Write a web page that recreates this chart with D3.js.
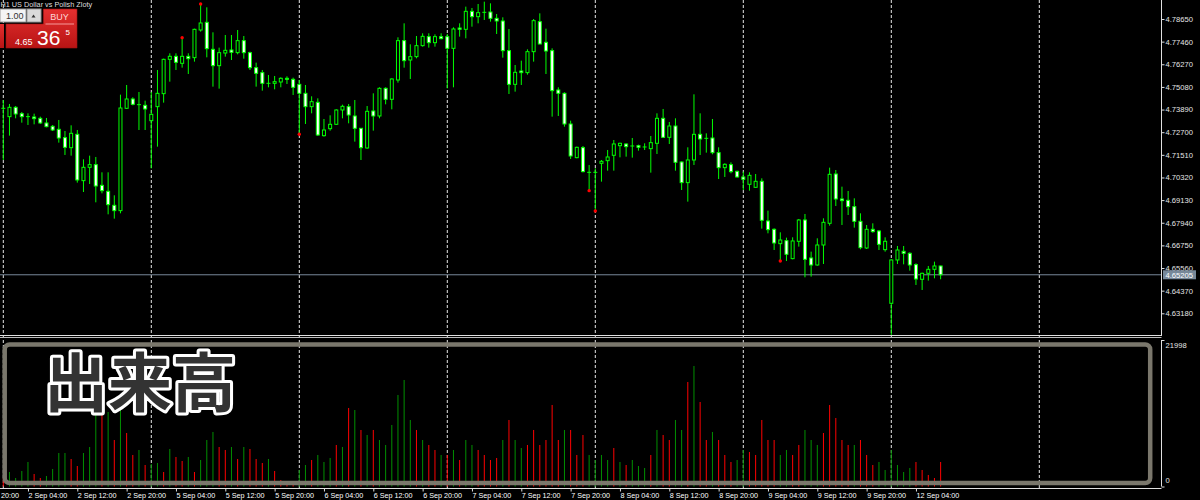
<!DOCTYPE html>
<html><head><meta charset="utf-8">
<script src="https://cdn.jsdelivr.net/npm/d3@7"></script>
<style>html,body{margin:0;padding:0;background:#000;overflow:hidden} svg{display:block}</style>
</head><body>
<svg id="c" width="1200" height="500"></svg>
<script>
// ---- data (USDPLN H1) ----
const opens=[4.73955,4.73517,4.74007,4.73674,4.73517,4.73499,4.73429,4.73184,4.73009,4.72851,4.72413,4.71887,4.72588,4.70153,4.70854,4.70994,4.69907,4.69592,4.68856,4.68576,4.73955,4.74445,4.74147,4.74112,4.73306,4.74042,4.74726,4.76530,4.76688,4.76320,4.76688,4.76618,4.78072,4.78475,4.77056,4.76197,4.76863,4.77021,4.76881,4.77512,4.76881,4.76092,4.75830,4.75269,4.75269,4.75339,4.75532,4.75479,4.75216,4.74743,4.74042,4.74270,4.72518,4.72886,4.73114,4.73867,4.74042,4.73552,4.72904,4.71870,4.73815,4.73552,4.75006,4.74428,4.75444,4.77512,4.76495,4.76671,4.77249,4.77722,4.77406,4.77722,4.77722,4.77108,4.78177,4.78107,4.79053,4.78773,4.79001,4.79018,4.78685,4.78545,4.76986,4.75216,4.75917,4.75830,4.76933,4.78510,4.77424,4.76986,4.74918,4.74743,4.73131,4.71362,4.71887,4.70591,4.70591,4.71064,4.71204,4.71485,4.71992,4.72080,4.71975,4.71992,4.71922,4.71835,4.72115,4.73429,4.72430,4.73026,4.71134,4.70048,4.71239,4.72588,4.72378,4.72395,4.71625,4.70836,4.70994,4.70643,4.70346,4.69960,4.69802,4.70118,4.68033,4.67595,4.66841,4.66999,4.66053,4.66964,4.68085,4.66088,4.65720,4.66771,4.67910,4.70503,4.69189,4.69119,4.68786,4.68015,4.66613,4.67595,4.67507,4.66526,4.63705,4.65983,4.66438,4.66333,4.65738,4.64967,4.65282,4.65492,4.65667];
const highs=[4.74393,4.74183,4.74077,4.73762,4.73692,4.73674,4.73517,4.73447,4.73079,4.73342,4.72763,4.73061,4.72816,4.71274,4.71467,4.71397,4.70591,4.70591,4.69382,4.74673,4.75181,4.74533,4.74813,4.74358,4.74813,4.75970,4.76565,4.76846,4.76846,4.77669,4.76846,4.78142,4.79439,4.79264,4.77950,4.77144,4.77809,4.77809,4.78072,4.77757,4.76933,4.76355,4.75970,4.75707,4.75654,4.75584,4.75637,4.75567,4.75444,4.75181,4.74586,4.74480,4.73394,4.73587,4.73902,4.74147,4.74183,4.74393,4.72921,4.74077,4.74743,4.75059,4.75059,4.75532,4.77687,4.78423,4.77319,4.77757,4.77897,4.77897,4.77844,4.77897,4.77862,4.78212,4.78423,4.79299,4.79229,4.79439,4.79561,4.79474,4.78913,4.78738,4.78125,4.76232,4.76460,4.77056,4.78650,4.78948,4.78142,4.77108,4.75059,4.74796,4.73306,4.71940,4.71975,4.70976,4.70801,4.71239,4.71765,4.72290,4.72150,4.72115,4.72395,4.72045,4.72115,4.72501,4.73692,4.73920,4.73236,4.73429,4.71169,4.71905,4.74691,4.73692,4.72641,4.73394,4.71905,4.71064,4.71116,4.70678,4.70626,4.70591,4.70503,4.70275,4.68576,4.67647,4.67437,4.67157,4.67174,4.68138,4.68401,4.66421,4.67122,4.68173,4.70836,4.70713,4.69837,4.69610,4.69224,4.68436,4.67822,4.67910,4.67560,4.67174,4.66018,4.66719,4.66719,4.66386,4.65808,4.65317,4.65667,4.65895,4.65685];
const lows=[4.71239,4.72518,4.73429,4.73201,4.73079,4.73114,4.73131,4.72956,4.72763,4.72150,4.71502,4.71467,4.70048,4.69557,4.69978,4.69014,4.69487,4.68383,4.68155,4.68436,4.73920,4.74112,4.72816,4.72816,4.70801,4.71940,4.74253,4.75356,4.75970,4.76092,4.75759,4.76408,4.77985,4.76635,4.75094,4.74989,4.76671,4.76495,4.76793,4.76565,4.75970,4.75094,4.74883,4.75059,4.74953,4.75059,4.75234,4.74656,4.72588,4.73131,4.73692,4.72501,4.72466,4.72781,4.73079,4.73429,4.73166,4.72203,4.71239,4.71835,4.72781,4.73429,4.74165,4.73902,4.75304,4.76092,4.75497,4.76583,4.77196,4.77144,4.77196,4.77582,4.75006,4.75059,4.77722,4.77634,4.78247,4.78423,4.78598,4.78510,4.77862,4.76618,4.74708,4.74831,4.75181,4.75724,4.76408,4.77319,4.75759,4.73517,4.73552,4.72991,4.71292,4.71327,4.70591,4.69627,4.68558,4.70100,4.70678,4.70678,4.71379,4.71414,4.71362,4.71730,4.71765,4.70573,4.71554,4.72395,4.72080,4.70678,4.69662,4.69049,4.70976,4.71502,4.71625,4.71537,4.70240,4.70346,4.70538,4.70310,4.69662,4.69627,4.69785,4.67630,4.67384,4.66508,4.65930,4.65930,4.66018,4.66684,4.65072,4.65107,4.65685,4.65772,4.67787,4.68821,4.67822,4.68348,4.67682,4.66543,4.66561,4.67419,4.66508,4.66421,4.62041,4.65772,4.65755,4.65422,4.64669,4.64406,4.64897,4.65019,4.64967];
const closes=[4.73955,4.74007,4.73657,4.73517,4.73517,4.73412,4.73184,4.72991,4.72816,4.72395,4.71905,4.72641,4.70188,4.70854,4.70994,4.69872,4.69627,4.68891,4.68576,4.73972,4.74445,4.74165,4.74147,4.73920,4.73639,4.74743,4.76530,4.76688,4.76373,4.76688,4.76565,4.78107,4.78440,4.77091,4.76197,4.76881,4.77003,4.76898,4.77512,4.76881,4.76092,4.75794,4.75269,4.75269,4.75356,4.75532,4.75479,4.75059,4.74743,4.74042,4.74305,4.72553,4.72816,4.73114,4.73867,4.74060,4.73604,4.72904,4.71887,4.73797,4.73552,4.75006,4.74428,4.75497,4.77512,4.76460,4.76671,4.77249,4.77739,4.77406,4.77722,4.77617,4.77108,4.78125,4.78107,4.79053,4.78773,4.78983,4.79001,4.78685,4.78545,4.76986,4.75216,4.75847,4.75830,4.76933,4.78563,4.77336,4.76968,4.74883,4.74743,4.73131,4.71449,4.71905,4.70626,4.70591,4.70591,4.71169,4.71397,4.72080,4.72115,4.71940,4.71975,4.71905,4.71922,4.72150,4.73429,4.72430,4.73026,4.71116,4.70048,4.71239,4.72588,4.72343,4.72378,4.71625,4.70836,4.71011,4.70626,4.70346,4.70223,4.70433,4.70118,4.68068,4.67577,4.66876,4.67034,4.66281,4.66982,4.68085,4.66018,4.65720,4.66771,4.67963,4.70486,4.69189,4.69102,4.68786,4.68015,4.66631,4.67595,4.67472,4.66806,4.66964,4.65983,4.66508,4.66333,4.65720,4.64984,4.65282,4.65492,4.65667,4.65205];
const volumes=[1276,2177,1276,2327,3679,1877,1276,1577,2628,5030,5030,4129,3078,5030,5931,11082,11187,11187,6982,11487,8034,4730,5481,3228,3379,3529,2177,5631,4430,3829,4430,2177,3979,6982,8184,5931,5481,5931,4129,5931,5631,4129,3529,4129,2327,976,375,375,2478,3228,3979,4730,3679,4280,6232,5931,11788,11487,8484,7733,8484,6982,6232,9235,13740,15992,9986,8484,6982,6232,5481,4730,4730,5481,3979,6982,6232,5481,4730,3979,4280,6982,9986,6982,5781,6232,8484,6232,6982,12238,6982,8484,8484,4730,7733,4730,3979,4730,3979,5781,3679,3228,3979,3078,2778,4730,8484,7733,6982,9986,8484,15692,18094,12689,6982,8184,6982,4730,3679,3979,5481,5181,4730,9986,6982,6982,4730,5481,4730,6232,8484,6982,6232,8034,12238,10286,6982,6232,6232,6982,4730,3228,3679,2478,5481,3228,2177,2778,3679,2478,1727,1276,3679];
const volColors="rggggrrggggrrgggrgrgrrgrggrgrrgrgggrrgrgrrrgrrrrggrgggrgrgrgrggggggrgrrgrgrggrrrrgrggrrrrrrgrrrggggrgrgggrgrrggrgrrgrrrggrrrrrggrrgggrrrrrgrrrggggggr";
const priceTicks=[4.78650,4.77460,4.76270,4.75080,4.73890,4.72700,4.71510,4.70320,4.69130,4.67940,4.66750,4.65560,4.64370,4.63180];
const timeLabels=["20:00","2 Sep 04:00","2 Sep 12:00","2 Sep 20:00","5 Sep 04:00","5 Sep 12:00","5 Sep 20:00","6 Sep 04:00","6 Sep 12:00","6 Sep 20:00","7 Sep 04:00","7 Sep 12:00","7 Sep 20:00","8 Sep 04:00","8 Sep 12:00","8 Sep 20:00","9 Sep 04:00","9 Sep 12:00","9 Sep 20:00","12 Sep 04:00"];
const timeLabelBars=[-4,4,12,20,28,36,44,52,60,68,76,84,92,100,108,116,124,132,140,148];
const dayStartBars=[0,24,48,72,96,120,144,168];
const fractalHigh=[29,32];
const fractalLow=[48,95,96,126];
const bidPrice=4.65205;
const volMax=21998;
const title="H1  US Dollar vs Polish Zloty";

// ---- scales ----
const svg=d3.select("#c");
const W=1200,H=500, axisX=1161.5;
const xs=d3.scaleLinear().domain([0,24]).range([3.3,151.3]);
const ys=d3.scaleLinear().domain([4.63180,4.78650]).range([313.3,19.0]);
const yv=d3.scaleLinear().domain([0,volMax]).range([486.5,340]);
const FONT="'Liberation Sans', Arial, sans-serif";
const GREEN="#00ff00";

svg.append("rect").attr("width",W).attr("height",H).attr("fill","#000");

// grid
const grid=svg.append("g");
dayStartBars.forEach(b=>{
  grid.append("line").attr("x1",xs(b)).attr("x2",xs(b)).attr("y1",0).attr("y2",488)
   .attr("stroke","#ffffff").attr("stroke-width",1).attr("stroke-dasharray","3,2").attr("opacity",0.9);
});

// bid line
svg.append("line").attr("x1",0).attr("x2",axisX).attr("y1",ys(bidPrice)).attr("y2",ys(bidPrice))
  .attr("stroke","#778899").attr("stroke-width",1);

// candles
const cg=svg.append("g");
opens.forEach((o,i)=>{
  const c=closes[i], x=xs(i);
  cg.append("line").attr("x1",x).attr("x2",x).attr("y1",ys(highs[i])).attr("y2",ys(lows[i]))
    .attr("stroke",GREEN).attr("stroke-width",1);
  const top=ys(Math.max(o,c)), bot=ys(Math.min(o,c));
  if(bot-top<1){
    cg.append("line").attr("x1",x-2).attr("x2",x+2).attr("y1",(top+bot)/2).attr("y2",(top+bot)/2)
      .attr("stroke",GREEN).attr("stroke-width",1);
  } else {
    cg.append("rect").attr("x",x-1.5).attr("y",top).attr("width",3).attr("height",bot-top)
      .attr("fill",c<o?"#ffffff":"#000000").attr("stroke",GREEN).attr("stroke-width",1);
  }
});
fractalHigh.forEach(i=>svg.append("circle").attr("cx",xs(i)).attr("cy",ys(highs[i])).attr("r",1.7).attr("fill","#ff0000"));
fractalLow.forEach(i=>svg.append("circle").attr("cx",xs(i)).attr("cy",ys(lows[i])).attr("r",1.7).attr("fill","#ff0000"));

// separators
svg.append("line").attr("x1",0).attr("x2",axisX).attr("y1",335.5).attr("y2",335.5).attr("stroke","#e0e0e0");
svg.append("line").attr("x1",0).attr("x2",axisX).attr("y1",337.5).attr("y2",337.5).attr("stroke","#bbbbbb");

// volume bars
const vg=svg.append("g");
volumes.forEach((v,i)=>{
  vg.append("line").attr("x1",xs(i)).attr("x2",xs(i)).attr("y1",yv(0)).attr("y2",yv(v))
    .attr("stroke",volColors[i]==="g"?"#009000":"#ff0000").attr("stroke-width",1);
});
// frame
svg.append("rect").attr("x",4.7).attr("y",344.5).attr("width",1145.5).attr("height",138.5).attr("rx",5)
  .attr("fill","none").attr("stroke","#7a776c").attr("stroke-width",4.5);
svg.append("text").attr("x",44).attr("y",406).text("出来高")
  .attr("font-family","'Noto Sans CJK JP'").attr("font-weight",700).attr("font-size",64)
  .attr("fill","#333333").attr("stroke","#ffffff").attr("stroke-width",6)
  .attr("stroke-linejoin","round").attr("paint-order","stroke fill");

// price axis
svg.append("line").attr("x1",axisX).attr("x2",axisX).attr("y1",0).attr("y2",336).attr("stroke","#e0e0e0");
const pa=svg.append("g").attr("transform",`translate(${axisX},0)`)
  .call(d3.axisRight(ys).tickValues(priceTicks).tickSize(3).tickSizeOuter(0).tickPadding(1).tickFormat(d3.format(".5f")));
pa.select(".domain").remove();
pa.selectAll("line").attr("stroke","#e0e0e0");
pa.selectAll("text").attr("fill","#e6e6e6").attr("font-family",FONT).attr("font-size",7.6);

// bid label
const by=ys(bidPrice);
svg.append("rect").attr("x",axisX+1.5).attr("y",by-4.5).attr("width",33).attr("height",9).attr("fill","#778899");
svg.append("text").attr("x",axisX+4).attr("y",by+3).text(d3.format(".5f")(bidPrice))
  .attr("fill","#ffffff").attr("font-family",FONT).attr("font-size",7.6);

// volume axis
svg.append("line").attr("x1",axisX).attr("x2",axisX).attr("y1",yv(volMax)).attr("y2",yv(0)).attr("stroke","#e0e0e0");
const va=svg.append("g").attr("transform",`translate(${axisX},0)`)
  .call(d3.axisRight(yv).tickValues([volMax,0]).tickSize(3).tickSizeOuter(0).tickPadding(1).tickFormat(d3.format("d")));
va.select(".domain").remove();
va.selectAll("line").attr("stroke","#e0e0e0");
va.selectAll("text").attr("fill","#e6e6e6").attr("font-family",FONT).attr("font-size",7.6)
  .attr("dy",(d)=>d===0?"-0.55em":"0.95em");

// time axis
svg.append("line").attr("x1",0).attr("x2",axisX).attr("y1",488.5).attr("y2",488.5).attr("stroke","#e0e0e0");
const ta=svg.append("g").attr("transform","translate(0,488.5)")
  .call(d3.axisBottom(xs).tickValues(timeLabelBars).tickSize(3).tickSizeOuter(0).tickPadding(1).tickFormat((d,i)=>timeLabels[i]));
ta.select(".domain").remove();
ta.selectAll("line").attr("stroke","#e0e0e0");
ta.selectAll("text").attr("fill","#ffffff").attr("font-family",FONT).attr("font-size",7.2).attr("text-anchor","start")
  .attr("x",(d)=>d<0?-xs(d)+0.5:0);

// title
svg.append("text").attr("x",0.5).attr("y",6.5).text(title).attr("fill","#dddddd").attr("font-family",FONT).attr("font-size",7.3);

// one-click panel
const defs=svg.append("defs");
const gr=defs.append("linearGradient").attr("id","rg").attr("x1",0).attr("x2",0).attr("y1",0).attr("y2",1);
gr.append("stop").attr("offset","0%").attr("stop-color","#e43030");
gr.append("stop").attr("offset","100%").attr("stop-color","#b81414");
svg.append("rect").attr("x",0).attr("y",9).attr("width",26).attr("height",13).attr("fill","#f4f4f4").attr("stroke","#9a9a9a");
svg.append("text").attr("x",23.5).attr("y",19).attr("text-anchor","end").text("1.00").attr("fill","#333").attr("font-family",FONT).attr("font-size",9);
svg.append("rect").attr("x",27).attr("y",9).attr("width",14).attr("height",13).attr("fill","#dadada").attr("stroke","#9a9a9a");
svg.append("path").attr("d","M31.5,17.5 L33.5,14.5 L35.5,17.5 Z").attr("fill","#333");
svg.append("rect").attr("x",0).attr("y",24).attr("width",4).attr("height",24).attr("fill","url(#rg)");
svg.append("path").attr("d","M43.3,9 H77 V48 H6 V24 H43.3 Z").attr("fill","url(#rg)").attr("stroke","#a01010").attr("stroke-width",0.6);
svg.append("line").attr("x1",45.5).attr("x2",74).attr("y1",24).attr("y2",24).attr("stroke","#f59a9a");
svg.append("text").attr("x",59.5).attr("y",19.5).attr("text-anchor","middle").text("BUY").attr("fill","#ffd6d6").attr("font-family",FONT).attr("font-size",9);
svg.append("text").attr("x",15).attr("y",44.5).text("4.65").attr("fill","#fff").attr("font-family",FONT).attr("font-size",9);
svg.append("text").attr("x",37).attr("y",45).text("36").attr("fill","#fff").attr("font-family",FONT).attr("font-size",21);
svg.append("text").attr("x",65.5).attr("y",35).text("5").attr("fill","#fff").attr("font-family",FONT).attr("font-size",8);
</script>
</body></html>
